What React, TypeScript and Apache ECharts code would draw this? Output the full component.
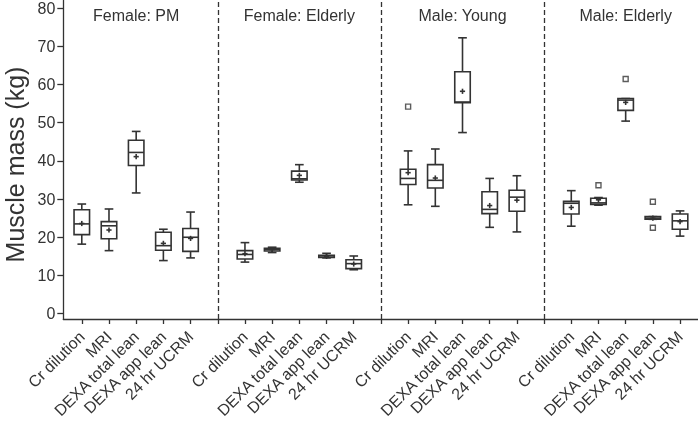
import React, { useEffect, useRef } from "react";
import * as echarts from "echarts";

const groups = ["Female: PM", "Female: Elderly", "Male: Young", "Male: Elderly"];
const categories = ["Cr dilution", "MRI", "DEXA total lean", "DEXA app lean", "24 hr UCRM"];

// per box, order: group 0 (5 categories), group 1, group 2, group 3
const lowerWhisker = [18.2, 16.5, 31.6, 13.9, 14.6, 13.5, 16.0, 34.4, 14.6, 11.5, 28.5, 28.1, 47.4, 22.6, 21.4, 22.9, 28.4, 50.4, 24.7, 20.3];
const q1 = [20.7, 19.6, 38.8, 16.6, 16.3, 14.3, 16.4, 35.0, 14.7, 11.8, 33.8, 32.9, 55.2, 26.2, 26.8, 26.1, 28.6, 53.2, 24.7, 22.1];
const median = [23.5, 23.0, 42.2, 17.8, 20.0, 15.5, 16.8, 35.3, 15.1, 13.1, 35.4, 34.9, 55.4, 27.3, 30.5, 28.9, 29.0, 55.9, 25.0, 24.3];
const q3 = [27.2, 24.1, 45.4, 21.3, 22.3, 16.5, 17.1, 37.3, 15.3, 14.1, 37.8, 39.0, 63.3, 31.9, 32.3, 29.4, 30.2, 56.3, 25.4, 26.1];
const upperWhisker = [28.7, 27.4, 47.7, 22.1, 26.6, 18.6, 17.4, 39.0, 15.8, 15.1, 42.6, 43.1, 72.2, 35.4, 36.1, 32.2, 30.4, 56.3, 25.4, 26.9];
const mean = [23.6, 21.9, 41.1, 18.4, 19.7, 15.7, 16.8, 36.2, 15.0, 13.0, 36.9, 35.5, 58.2, 28.3, 29.7, 27.8, 29.8, 55.3, 25.0, 24.1];

// outliers: [group index, category index, value]
const outliers: [number, number, number][] = [
  [2, 0, 54.2],
  [3, 1, 33.6],
  [3, 2, 61.4],
  [3, 3, 29.3],
  [3, 3, 22.5],
];

const yTicks = [0, 10, 20, 30, 40, 50, 60, 70, 80];
const yTitle = "Muscle mass (kg)";

const SLOTS = categories.length + 1; // one extra slot per group for the separator
const FONT = "'Liberation Sans', Arial, Helvetica, sans-serif";
const INK = "#333333";

export default function App() {
  const ref = useRef<HTMLDivElement>(null);

  useEffect(() => {
    if (!ref.current) return;
    const chart = echarts.init(ref.current, null, { renderer: "svg" });

    const boxData: number[][] = [];
    groups.forEach((_, g) => {
      categories.forEach((_, c) => {
        const k = g * categories.length + c;
        boxData.push([g * SLOTS + c, lowerWhisker[k], q1[k], median[k], q3[k], upperWhisker[k], mean[k]]);
      });
    });
    const outlierData = outliers.map(([g, c, v]) => [g * SLOTS + c, v]);
    const separators = groups.slice(0, -1).map((_, g) => g * SLOTS + categories.length);
    const labelPositions: number[] = [];
    const tickPositions: number[] = [];
    groups.forEach((_, g) => {
      categories.forEach((_, c) => labelPositions.push(g * SLOTS + c));
    });
    for (let i = 0; i < groups.length * SLOTS - 1; i++) tickPositions.push(i);
    const titleData = groups.map((name, g) => [g * SLOTS + (categories.length - 1) / 2, 78, name]);

    chart.setOption({
      animation: false,
      grid: { left: 63.3, right: 0, top: 0, bottom: 103 },
      xAxis: {
        type: "value",
        min: -0.68,
        max: 22.66,
        splitLine: { show: false },
        axisLine: { onZero: false, lineStyle: { color: INK, width: 1.3 } },
        axisTick: { customValues: tickPositions, length: 5, lineStyle: { color: INK, width: 1.3 } },
        axisLabel: {
          customValues: labelPositions,
          formatter: (v: number) => categories[Math.round(v) % SLOTS] ?? "",
          rotate: 45,
          fontSize: 16,
          fontFamily: FONT,
          color: INK,
          margin: 15,
          hideOverlap: false,
        },
      },
      yAxis: {
        type: "value",
        min: -1.39,
        max: 82,
        splitLine: { show: false },
        axisLine: { show: true, onZero: false, lineStyle: { color: INK, width: 1.3 } },
        axisTick: { show: true, customValues: yTicks, length: 6, lineStyle: { color: INK, width: 1.3 } },
        axisLabel: { customValues: yTicks, fontSize: 16, fontFamily: FONT, color: INK, margin: 8 },
      },
      graphic: [
        {
          type: "text",
          x: 15,
          y: 164.5,
          rotation: Math.PI / 2,
          style: {
            text: yTitle,
            fontSize: 25,
            fontFamily: FONT,
            fill: INK,
            align: "center",
            verticalAlign: "middle",
          },
        },
      ],
      series: [
        {
          type: "custom",
          data: boxData,
          renderItem: (params: any, api: any) => {
            const x = api.value(0);
            const cx = api.coord([x, 0])[0];
            const slot = api.size([1, 0])[0];
            const bw = slot * 0.57;
            const cap = bw * 0.56;
            const y = (v: number) => api.coord([x, v])[1];
            const lo = y(api.value(1));
            const b1 = y(api.value(2));
            const md = y(api.value(3));
            const b3 = y(api.value(4));
            const hi = y(api.value(5));
            const mn = y(api.value(6));
            const style = { stroke: INK, lineWidth: 1.6, fill: null };
            const line = (x1: number, y1: number, x2: number, y2: number) => ({
              type: "line",
              shape: { x1, y1, x2, y2 },
              style,
            });
            return {
              type: "group",
              children: [
                line(cx, b3, cx, hi),
                line(cx - cap / 2, hi, cx + cap / 2, hi),
                line(cx, b1, cx, lo),
                line(cx - cap / 2, lo, cx + cap / 2, lo),
                {
                  type: "rect",
                  shape: { x: cx - bw / 2, y: b3, width: bw, height: b1 - b3 },
                  style: { stroke: INK, lineWidth: 1.6, fill: "#ffffff" },
                },
                line(cx - bw / 2, md, cx + bw / 2, md),
                line(cx - 2.6, mn, cx + 2.6, mn),
                line(cx, mn - 2.6, cx, mn + 2.6),
              ],
            };
          },
          markLine: {
            silent: true,
            symbol: "none",
            label: { show: false },
            lineStyle: { color: INK, width: 1.3, type: [5, 3] },
            data: separators.map((s) => ({ xAxis: s })),
          },
          z: 3,
        },
        {
          type: "scatter",
          data: outlierData,
          symbol: "rect",
          symbolSize: 5,
          itemStyle: { color: "#ffffff", borderColor: INK, borderWidth: 1.4 },
          z: 4,
        },
        {
          type: "custom",
          data: titleData,
          renderItem: (params: any, api: any) => {
            const p = api.coord([api.value(0), api.value(1)]);
            return {
              type: "text",
              x: p[0],
              y: p[1],
              style: {
                text: titleData[params.dataIndex][2],
                fontSize: 16,
                fontFamily: FONT,
                fill: INK,
                align: "center",
                verticalAlign: "middle",
              },
            };
          },
        },
      ],
    });

    return () => chart.dispose();
  }, []);

  return <div ref={ref} style={{ position: "fixed", left: 0, top: 0, width: 698, height: 422 }} />;
}
